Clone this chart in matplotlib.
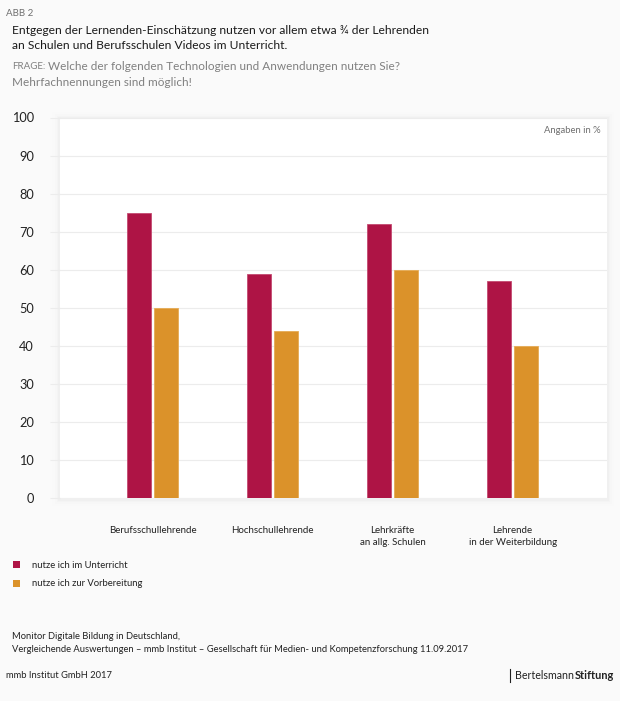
import matplotlib
matplotlib.use("Agg")
import matplotlib.pyplot as plt
from matplotlib.patches import Rectangle
import numpy as np

categories = ["Berufsschullehrende", "Hochschullehrende", "Lehrkräfte\nan allg. Schulen", "Lehrende\nin der Weiterbildung"]
unterricht = [75, 59, 72, 57]
vorbereitung = [50, 44, 60, 40]
series_names = ["nutze ich im Unterricht", "nutze ich zur Vorbereitung"]
y_ticks = [0, 10, 20, 30, 40, 50, 60, 70, 80, 90, 100]

W, H = 620, 701
BG = "#fafafa"
CRIMSON = "#ae1445"
ORANGE = "#db922a"
plt.rcParams["font.family"] = ["Lato", "DejaVu Sans"]

fig = plt.figure(figsize=(W/100, H/100), dpi=100, facecolor=BG)
L, R, T, B = 59.5, 607, 117.5, 498
ax = fig.add_axes([L/W, 1-B/H, (R-L)/W, (B-T)/H], facecolor="white", zorder=2)

# soft panel shadow
for g, a in [(7, .005), (5, .007), (3, .010), (1.5, .015)]:
    fig.add_artist(Rectangle(((L-g)/W, 1-(B+g+1)/H), (R-L+2*g)/W, (B-T+2*g)/H, transform=fig.transFigure,
                             facecolor="black", alpha=a, edgecolor="none", zorder=1))

x = np.arange(len(categories))
bw, off = 24.0/120, 13.6/120
ax.bar(x-off, unterricht, bw, color=CRIMSON, edgecolor="#c44a70", lw=0.6, zorder=3)
ax.bar(x+off, vorbereitung, bw, color=ORANGE, edgecolor="#e6ab55", lw=0.6, zorder=3)
ax.set_xlim((L-152.6)/120, (R-152.6)/120)
ax.set_ylim(0, 100)
ax.set_yticks(y_ticks)
ax.grid(axis="y", color="#ececec", lw=0.8, zorder=0)
ax.tick_params(axis="y", length=7.3, width=0.8, color="#ececec", pad=11, labelsize=9.2, labelcolor="#222222")
ax.set_xticks(x, categories, fontsize=7.0, color="#222222", linespacing=1.4)
ax.tick_params(axis="x", length=0, pad=20)
for s in ax.spines.values():
    s.set_visible(False)
ax.text(0.9875, 0.9765, "Angaben in %", transform=ax.transAxes, ha="right", va="top", fontsize=6.8, color="#707070")

def T_(px, py, s, **kw):
    fig.text(px/W, 1-py/H, s, va="center", **kw)

T_(6, 13, "ABB 2", fontsize=7.0, color="#707070")
T_(12, 30.5, "Entgegen der Lernenden-Einschätzung nutzen vor allem etwa ¾ der Lehrenden", fontsize=8.65, color="#1a1a1a")
T_(12, 45.5, "an Schulen und Berufsschulen Videos im Unterricht.", fontsize=8.65, color="#1a1a1a")
T_(12, 66.5, "FRAGE:", fontsize=7.0, color="#808080")
T_(47.5, 66, "Welche der folgenden Technologien und Anwendungen nutzen Sie?", fontsize=8.5, color="#808080")
T_(12, 83, "Mehrfachnennungen sind möglich!", fontsize=8.5, color="#808080")

for py, c, s in [(564.5, CRIMSON, series_names[0]), (583.5, ORANGE, series_names[1])]:
    fig.add_artist(Rectangle((13/W, 1-(py+3.5)/H), 7/W, 7/H, transform=fig.transFigure, facecolor=c, edgecolor="none"))
    T_(32, py+0.5, s, fontsize=6.8, color="#222222")

T_(12, 636.5, "Monitor Digitale Bildung in Deutschland,", fontsize=6.75, color="#222222")
T_(12, 650, "Vergleichende Auswertungen – mmb Institut – Gesellschaft für Medien- und Kompetenzforschung 11.09.2017", fontsize=6.75, color="#222222")
T_(6, 675.5, "mmb Institut GmbH 2017", fontsize=6.75, color="#222222")
fig.add_artist(plt.Line2D([510/W, 510/W], [1-669/H, 1-682/H], transform=fig.transFigure, color="#222222", lw=0.8))
T_(515, 675.5, "Bertelsmann", fontsize=7.7, color="#222222")
T_(575, 675.5, "Stiftung", fontsize=7.95, color="#222222", fontweight="bold")
fig.savefig("out.png", dpi=100, facecolor=BG)
